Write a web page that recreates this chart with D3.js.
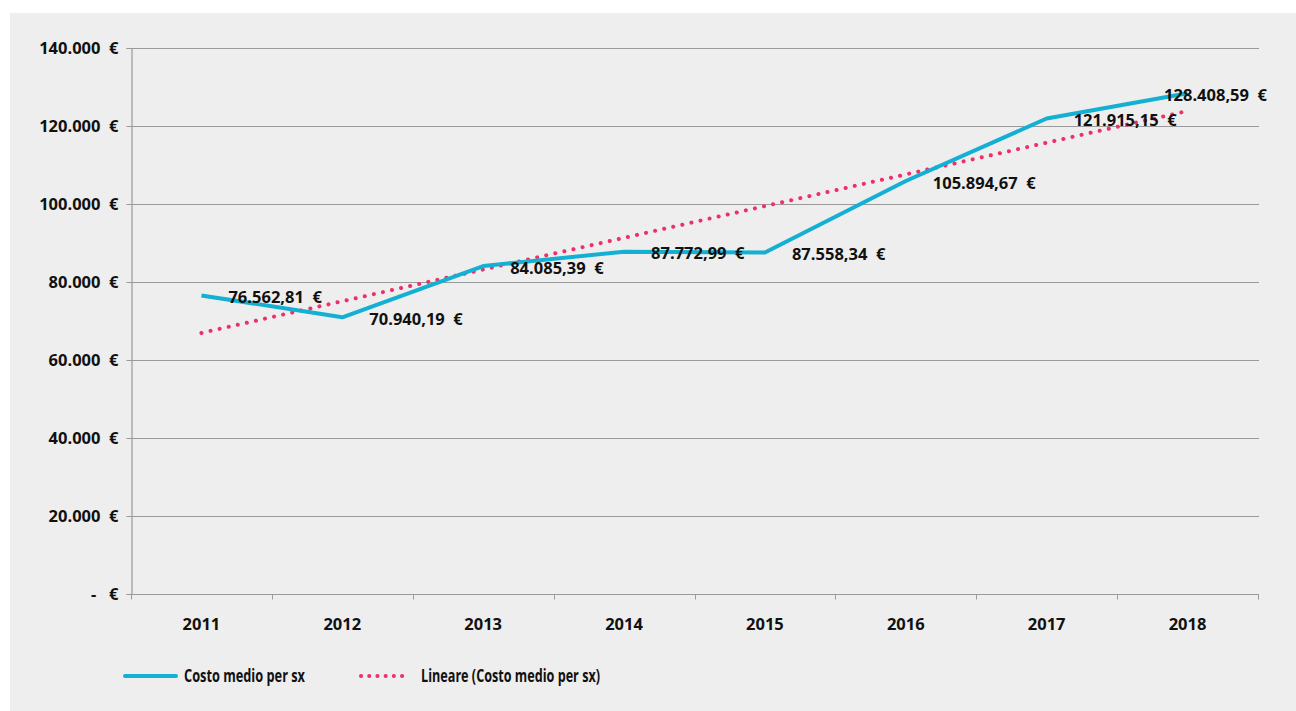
<!DOCTYPE html>
<html>
<head>
<meta charset="utf-8">
<script src="https://cdn.jsdelivr.net/npm/d3@7/dist/d3.min.js"></script>
<style>
  html, body { margin: 0; padding: 0; background: #ffffff; }
  svg { display: block; }
  text { font-family: "Open Sans", "DejaVu Sans", sans-serif; font-weight: 700; fill: #111; }
</style>
</head>
<body>
<svg id="chart" width="1296" height="711"></svg>
<script>
// Average cost per claim, by year
const years = ["2011", "2012", "2013", "2014", "2015", "2016", "2017", "2018"];
const costoMedio = [76562.81, 70940.19, 84085.39, 87772.99, 87558.34, 105894.67, 121915.15, 128408.59];
const yTicks = [0, 20000, 40000, 60000, 80000, 100000, 120000, 140000];
const seriesName = "Costo medio per sx";
const trendName = "Lineare (Costo medio per sx)";

const W = 1296, H = 711;
const plot = { left: 131, right: 1258, top: 48, bottom: 594 };
const colLine = "#13b0d3";
const colTrend = "#ee2f68";
const colGrid = "#9a9a9a";

const svg = d3.select("#chart");

// panel background
svg.append("rect").attr("x", 10).attr("y", 13).attr("width", W - 10).attr("height", H - 13)
  .attr("fill", "#eeeeee");

const x = d3.scaleBand().domain(years).range([plot.left, plot.right]);
const y = d3.scaleLinear().domain([0, 140000]).range([plot.bottom, plot.top]);
const cx = d => x(d) + x.bandwidth() / 2;

// horizontal grid
svg.append("g").selectAll("line").data(yTicks.filter(v => v > 0)).join("line")
  .attr("x1", plot.left).attr("x2", plot.right + 1)
  .attr("y1", d => Math.round(y(d)) + 0.5).attr("y2", d => Math.round(y(d)) + 0.5)
  .attr("stroke", colGrid).attr("stroke-width", 1);

// y axis
const fmtAxis = v => v === 0 ? "-   €" : d3.format(",")(v).replace(/,/g, ".") + "  €";
const yAxis = svg.append("g").attr("transform", `translate(${plot.left + 0.5},0)`)
  .call(d3.axisLeft(y).tickValues(yTicks).tickSize(5).tickPadding(8).tickFormat(fmtAxis));
yAxis.select(".domain").attr("stroke", colGrid).attr("stroke-width", 1.2);
yAxis.selectAll(".tick line").attr("stroke", colGrid);
yAxis.selectAll("text").attr("font-size", 16.5).style("white-space", "pre").attr("fill", "#111")
  .attr("dy", "0.35em").attr("font-family", "Open Sans").attr("font-weight", 700);

// x axis, ticks at category boundaries
const xAxisG = svg.append("g").attr("transform", `translate(0,${plot.bottom + 0.5})`);
xAxisG.append("line").attr("x1", plot.left).attr("x2", plot.right + 1)
  .attr("stroke", colGrid).attr("stroke-width", 1.2);
const bounds = years.map(d => x(d)).concat([plot.right]);
xAxisG.selectAll("line.tk").data(bounds).join("line").attr("class", "tk")
  .attr("x1", d => Math.round(d) + 0.5).attr("x2", d => Math.round(d) + 0.5)
  .attr("y1", 0).attr("y2", 5).attr("stroke", colGrid);
xAxisG.selectAll("text").data(years).join("text")
  .attr("x", d => cx(d)).attr("y", 35).attr("text-anchor", "middle")
  .attr("font-size", 16.5).text(d => d);

// linear trend (least squares over the yearly values)
const n = costoMedio.length;
const xi = d3.range(1, n + 1);
const mx = d3.mean(xi), my = d3.mean(costoMedio);
const slope = d3.sum(xi.map((v, i) => (v - mx) * (costoMedio[i] - my))) /
              d3.sum(xi.map(v => (v - mx) ** 2));
const icpt = my - slope * mx;
const trendPts = [[cx(years[0]), y(icpt + slope * 1)], [cx(years[n - 1]), y(icpt + slope * n)]];
svg.append("path").attr("d", d3.line()(trendPts))
  .attr("fill", "none").attr("stroke", colTrend).attr("stroke-width", 4)
  .attr("stroke-linecap", "round").attr("stroke-dasharray", "0.1 9.2");

// main series
svg.append("path").datum(costoMedio)
  .attr("d", d3.line().x((d, i) => cx(years[i])).y(d => y(d)))
  .attr("fill", "none").attr("stroke", colLine).attr("stroke-width", 4)
  .attr("stroke-linejoin", "round");

// value labels
const fmtVal = v => {
  const s = d3.format(",.2f")(v);
  return s.replace(/,/g, "#").replace(/\./g, ",").replace(/#/g, ".") + "  €";
};
const labelRightLimit = 1267;
svg.append("g").selectAll("text").data(costoMedio).join("text")
  .attr("font-size", 16.5).style("white-space", "pre")
  .attr("y", d => y(d) + 2).attr("dy", "0.35em")
  .text(d => fmtVal(d))
  .attr("x", function (d, i) {
    const w = this.getComputedTextLength();
    return Math.min(cx(years[i]) + 27, labelRightLimit - w);
  });

// legend (condensed lettering)
const lg = svg.append("g").attr("transform", "translate(0,676)");
lg.append("line").attr("x1", 125).attr("x2", 176).attr("y1", 0).attr("y2", 0)
  .attr("stroke", colLine).attr("stroke-width", 4).attr("stroke-linecap", "round");
lg.append("text").attr("x", 184).attr("y", 0).attr("dy", "0.35em")
  .attr("font-size", 18).attr("textLength", 121).attr("lengthAdjust", "spacingAndGlyphs")
  .text(seriesName);
lg.append("line").attr("x1", 361).attr("x2", 410).attr("y1", 0).attr("y2", 0)
  .attr("stroke", colTrend).attr("stroke-width", 4).attr("stroke-linecap", "round")
  .attr("stroke-dasharray", "0.1 8.1");
lg.append("text").attr("x", 421).attr("y", 0).attr("dy", "0.35em")
  .attr("font-size", 18).attr("textLength", 179).attr("lengthAdjust", "spacingAndGlyphs")
  .text(trendName);
</script>
</body>
</html>
